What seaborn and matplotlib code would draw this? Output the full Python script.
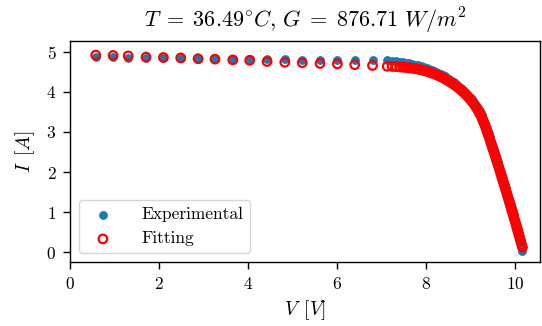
import matplotlib
matplotlib.use("Agg")
import matplotlib.pyplot as plt
import seaborn as sns
import pandas as pd

# ---- data ----
V_sparse = [0.58, 0.97, 1.31, 1.71, 2.10, 2.49, 2.88, 3.26, 3.66, 4.04, 4.43,
            4.83, 5.22, 5.62, 6.01, 6.40, 6.80]
I_exp_sparse = [4.86, 4.86, 4.85, 4.85, 4.84, 4.84, 4.83, 4.83, 4.82, 4.82, 4.81,
                4.81, 4.80, 4.80, 4.80, 4.79, 4.79]
I_fit_sparse = [4.92, 4.91, 4.90, 4.87, 4.86, 4.85, 4.83, 4.82, 4.80, 4.79, 4.76,
                4.74, 4.73, 4.71, 4.70, 4.68, 4.66]

V_knee = [7.13, 7.24, 7.33, 7.41, 7.48, 7.55, 7.62, 7.69, 7.76, 7.83, 7.90, 7.96,
          8.02, 8.08,
          8.13, 8.18, 8.23, 8.28, 8.33, 8.38, 8.43, 8.48, 8.53, 8.58, 8.63, 8.68,
          8.73, 8.78, 8.83, 8.88, 8.93, 8.98, 9.03, 9.08, 9.13]
I_exp_knee = [4.790, 4.780, 4.769, 4.757, 4.745, 4.731, 4.716, 4.699, 4.681, 4.661,
              4.639, 4.616, 4.591, 4.564,
              4.542, 4.521, 4.498, 4.473, 4.446, 4.417, 4.386, 4.353, 4.318, 4.281,
              4.242, 4.201, 4.157, 4.110, 4.060, 4.006, 3.948, 3.885, 3.817, 3.743,
              3.662]
I_fit_knee = [4.640, 4.636, 4.631, 4.625, 4.619, 4.611, 4.602, 4.591, 4.579, 4.565,
              4.549, 4.532, 4.513, 4.492,
              4.474, 4.454, 4.432, 4.408, 4.382, 4.354, 4.324, 4.292, 4.258, 4.222,
              4.184, 4.144, 4.101, 4.055, 4.006, 3.953, 3.896, 3.834, 3.767, 3.694,
              3.614]

V_steep = [9.17, 9.19, 9.21, 9.23, 9.25, 9.27, 9.29, 9.31, 9.33, 9.35, 9.37, 9.39,
           9.41, 9.43, 9.45, 9.47, 9.49, 9.51, 9.53, 9.55, 9.57, 9.59, 9.61, 9.63,
           9.65, 9.67, 9.69, 9.71, 9.73, 9.75, 9.77, 9.79, 9.81, 9.83, 9.85, 9.87,
           9.89, 9.91, 9.93, 9.95, 9.97, 9.99, 10.01, 10.03, 10.05, 10.07, 10.09,
           10.11, 10.13, 10.15, 10.17]
I_exp_steep = [3.590, 3.553, 3.513, 3.469, 3.421, 3.369, 3.315, 3.259, 3.201, 3.139,
               3.076, 3.012, 2.947, 2.881, 2.814, 2.747, 2.679, 2.611, 2.542, 2.473,
               2.403, 2.333, 2.262, 2.191, 2.120, 2.048, 1.976, 1.904, 1.831, 1.758,
               1.685, 1.612, 1.538, 1.464, 1.390, 1.316, 1.241, 1.166, 1.091, 1.015,
               0.939, 0.863, 0.786, 0.709, 0.631, 0.553, 0.474, 0.380, 0.270, 0.140,
               0.030]
I_fit_steep = [3.545, 3.508, 3.468, 3.424, 3.376, 3.324, 3.270, 3.214, 3.156, 3.094,
               3.031, 2.967, 2.902, 2.836, 2.769, 2.702, 2.634, 2.566, 2.497, 2.428,
               2.358, 2.288, 2.217, 2.146, 2.075, 2.003, 1.931, 1.859, 1.786, 1.713,
               1.640, 1.567, 1.493, 1.419, 1.345, 1.271, 1.196, 1.121, 1.046, 0.970,
               0.894, 0.818, 0.741, 0.664, 0.586, 0.508, 0.429, 0.350, 0.270, 0.190,
               0.120]

title_text = r"$T\;=\;36.49^{\circ}C,\,G\;=\;876.71\ W/m^2$"
xlabel_text = r"$V\ \,[V]$"
ylabel_text = r"$I\ \,[A]$"
x_ticks = [0, 2, 4, 6, 8, 10]
y_ticks = [0, 1, 2, 3, 4, 5]

df = pd.DataFrame({
    "V": V_sparse + V_knee + V_steep,
    "I_exp": I_exp_sparse + I_exp_knee + I_exp_steep,
    "I_fit": I_fit_sparse + I_fit_knee + I_fit_steep,
})

plt.rcParams.update({
    "font.family": "serif",
    "font.serif": ["cmr10"],
    "mathtext.fontset": "cm",
    "axes.formatter.use_mathtext": True,
    "axes.unicode_minus": False,
})

fig, ax = plt.subplots(figsize=(5.42, 3.26), dpi=100)
fig.subplots_adjust(left=0.129, right=0.996, top=0.874, bottom=0.196)

sns.scatterplot(data=df, x="V", y="I_exp", ax=ax, color="#1f77b4", s=40,
                linewidth=0, label="Experimental")
sns.scatterplot(data=df, x="V", y="I_fit", ax=ax, facecolors="none",
                edgecolor="red", s=38, linewidth=1.6, label="Fitting")

ax.set_xlim(0, 10.56)
ax.set_ylim(-0.25, 5.27)
ax.set_xticks(x_ticks)
ax.set_yticks(y_ticks)
ax.tick_params(labelsize=12.5, length=4.8, width=1.0, pad=5)
for sp in ax.spines.values():
    sp.set_linewidth(1.0)
ax.set_title(title_text, fontsize=16, pad=10)
ax.set_xlabel(xlabel_text, fontsize=14, labelpad=5)
ax.set_ylabel(ylabel_text, fontsize=14, labelpad=7)
ax.legend(loc="lower left", fontsize=12.5, handletextpad=1.2)

fig.savefig("out.png", dpi=100)
